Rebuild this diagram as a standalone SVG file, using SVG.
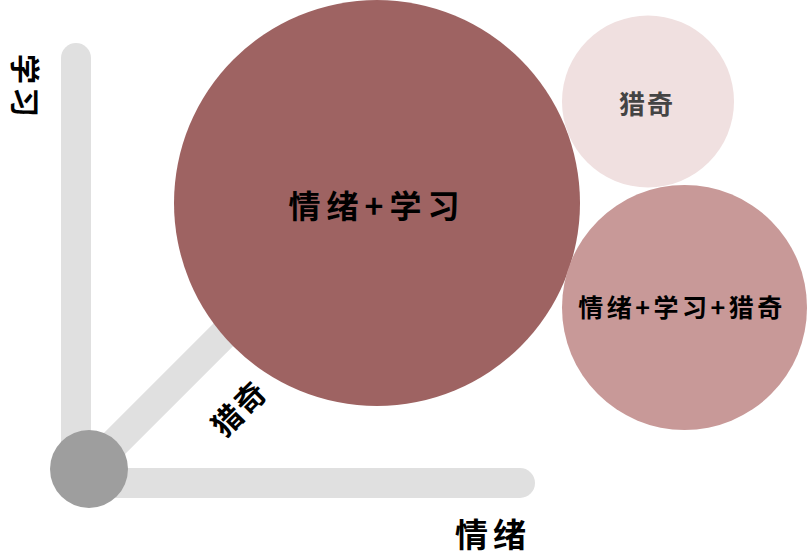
<svg xmlns="http://www.w3.org/2000/svg" width="807" height="559" viewBox="0 0 807 559">
<style>
.bar{stroke:#e0e0e0;stroke-width:30;stroke-linecap:round;fill:none}
.t{font-family:"Noto Sans CJK SC","Noto Sans",sans-serif;font-weight:bold;text-anchor:middle;dominant-baseline:central}
</style>
<rect width="807" height="559" fill="#ffffff"/>
<g id="connectors">
<line class="bar" x1="76" y1="58" x2="76" y2="460"/>
<line class="bar" x1="95" y1="483" x2="520" y2="483"/>
<line class="bar" x1="95" y1="463" x2="265" y2="293"/>
</g>
<g id="origin"><circle cx="89" cy="469" r="39" fill="#9e9e9e"/></g>
<g id="axis-learning"><text class="t" transform="translate(27 87) rotate(90)" font-size="30" letter-spacing="3" fill="#000">学习</text></g>
<g id="axis-curious"><text class="t" transform="translate(238 407) rotate(-45)" font-size="30" letter-spacing="2" fill="#000">猎奇</text></g>
<g id="axis-emotion"><text class="t" x="493" y="533" font-size="33" letter-spacing="5" fill="#000">情绪</text></g>
<g id="node-big"><circle cx="377" cy="203" r="203" fill="#9e6362"/><text class="t" x="377" y="204" font-size="32" letter-spacing="6" fill="#000">情绪+学习</text></g>
<g id="node-small"><circle cx="648" cy="101.5" r="86" fill="#f0e0e0"/><text class="t" x="647" y="102" font-size="26" letter-spacing="2" fill="#444">猎奇</text></g>
<g id="node-mid"><circle cx="684.5" cy="307.5" r="122.5" fill="#c89998"/><text class="t" x="682" y="306" font-size="25" letter-spacing="3.5" fill="#000">情绪+学习+猎奇</text></g>
</svg>
